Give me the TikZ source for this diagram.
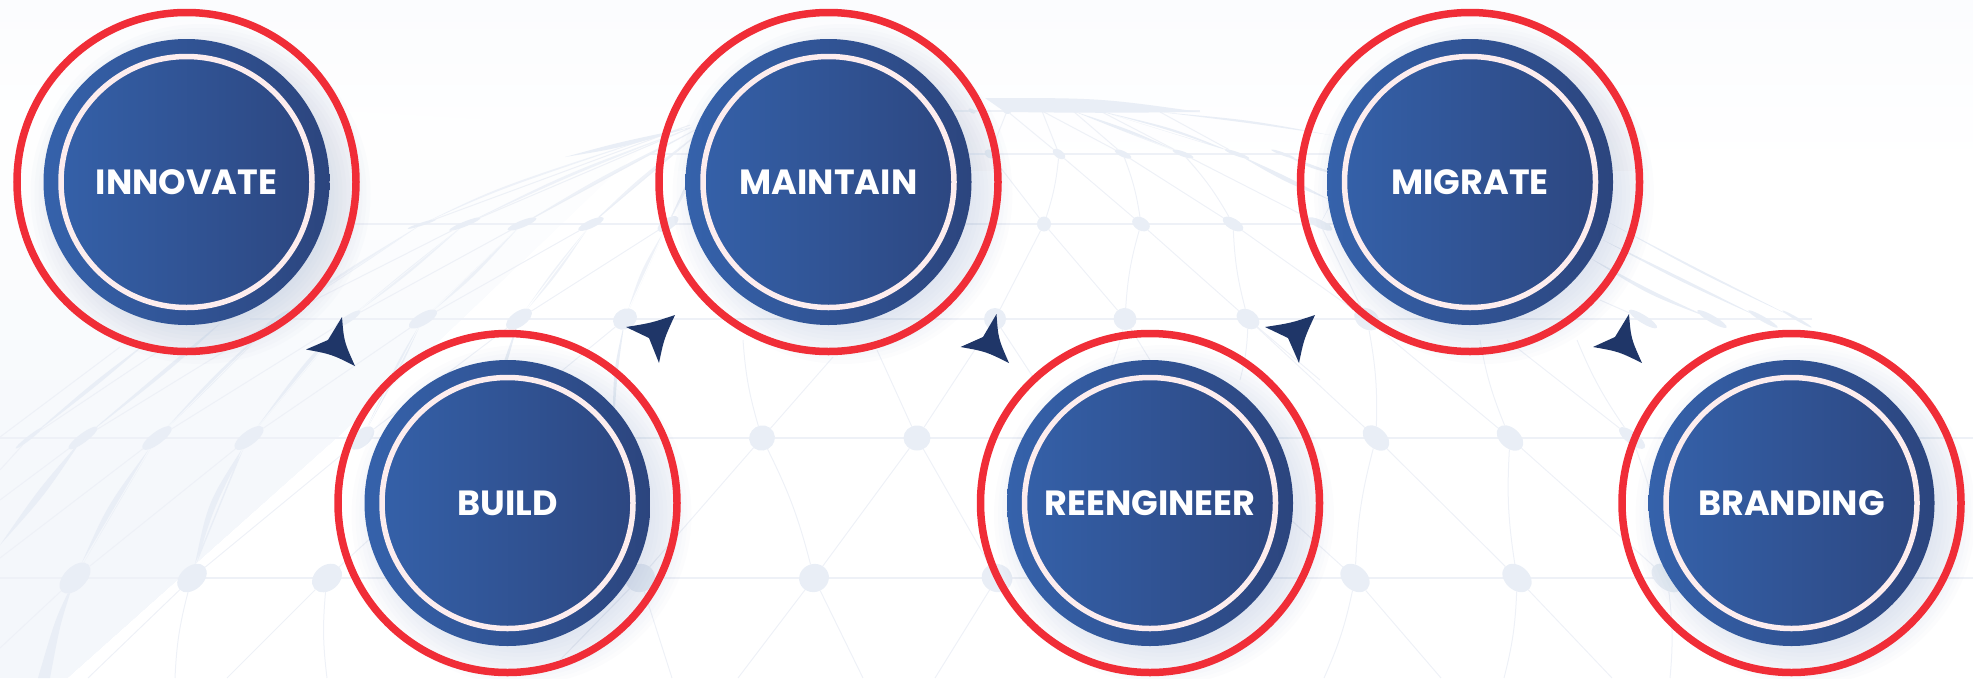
\documentclass[tikz,border=0pt]{standalone}
\usepackage{fontspec}
\usetikzlibrary{shapes.geometric}
\newfontfamily\badgefont{Poppins}
\definecolor{ringred}{HTML}{F02D37}
\definecolor{ringpale}{HTML}{FDEDEE}
\definecolor{discleft}{HTML}{3562AB}
\definecolor{discmid}{HTML}{2F4F8D}
\definecolor{discright}{HTML}{2C457E}
\definecolor{arrownavy}{HTML}{1F3668}
\definecolor{netfillc}{HTML}{E9EEF6}
\definecolor{netlinec}{HTML}{EEF1F7}
\definecolor{halo}{HTML}{A3B3D3}
\definecolor{tintc}{HTML}{F4F7FB}
\definecolor{topc}{HTML}{FBFCFE}
\tikzset{
  netdot/.style={ellipse,fill=netfillc,inner sep=0pt,outer sep=0pt},
  netline/.style={draw=netlinec,line width=1pt},
  netrow/.style={draw=netlinec,line width=1.5pt},
  netlens/.style={fill=netfillc},
  faintlens/.style={fill=netfillc,fill opacity=0.75},
  discnode/.style={circle,minimum size=286pt,inner sep=0pt,outer sep=0pt,left color=discleft,middle color=discmid,right color=discright,text=white,font=\badgefont\bfseries\fontsize{35pt}{38pt}\selectfont},
  ringnode/.style={circle,minimum size=339pt,inner sep=0pt,outer sep=0pt,draw=ringred,line width=7.5pt},
  palenode/.style={circle,minimum size=251pt,inner sep=0pt,outer sep=0pt,draw=ringpale,line width=5.5pt},
  pointer/.style={fill=arrownavy}
}
\newcommand{\badge}[4]{%
  \foreach \r in {126,130,...,170}{\fill[halo,opacity=0.035] (#2+14,#3+12) circle (\r);}
  \node[ringnode] (ring#1) at (#2,#3) {};
  \node[discnode] (#1) at (#2,#3) {#4};
  \node[palenode] (pale#1) at (#2,#3) {};
}
\newcommand{\lens}[4]{\fill[netlens] (#1) .. controls #2 .. (#4) .. controls #3 .. (#1) -- cycle;}
\newcommand{\flens}[4]{\fill[faintlens] (#1) .. controls #2 .. (#4) .. controls #3 .. (#1) -- cycle;}
\newcommand{\pointerback}[8]{\fill[pointer] (#1,#2) .. controls ({(#1+#3)/2-4.5},{(#2+#4)/2}) .. (#3,#4) .. controls ({(#3+#5)/2+1},{(#4+#6)/2-3.5}) .. (#5,#6) -- (#7,#8) -- cycle;}
\begin{document}
\begin{tikzpicture}[x=1pt,y=-1pt]
\path[use as bounding box] (0,0) rectangle (1973,678);
% background tints
\fill[top color=topc,bottom color=white,draw=none] (0,0) rectangle (1973,170);
\begin{scope}
\clip (0,90) -- (660,130) -- (345,430) -- (67,678) -- (0,678) -- cycle;
\foreach \yy/\p in {100/4,120/8,140/12,160/16,180/20,200/25,220/30,240/35,260/40,280/45,300/50,320/55,340/60,360/65,380/70,400/75,420/80,440/84,460/88,480/92,500/96,520/100}{
  \fill[tintc!\p!white] (0,\yy) rectangle (700,678);}
\end{scope}
% horizontal rows of the net
\foreach \yy/\xa/\xb in {578/0/1973,438/0/1973,319/250/1812,224/350/1560,154/650/1400,111/950/1200}{
  \draw[netrow] (\xa,\yy) -- (\xb,\yy);}
% net junctions
\foreach \n/\x/\y/\w/\h/\r in {
 a1/75/578/38/22/45,a2/192/578/34/23/42,a3/327/578/33/25/40,a4/640/578/30/28/20,a5/814/578/30/28/20,a6/997/578/31/28/-20,a7/1355/578/33/24/-42,a8/1517/578/33/24/-42,a9/1667/578/36/22/-40,
 b1/29/438/34/4/38,b2/83/438/36/9/37,b3/157/438/36/12/37,b4/249/438/35/14/37,b5/362/438/30/16/42,b6/762/438/26/25/30,b7/917/438/27/25/0,b8/1376/438/31/20/-42,b9/1510/438/31/20/-42,b10/1632/438/32/12/-38,
 c0/277/319/30/5/35,c1/348/319/30/7/33,c2/423/319/32/12/30,c3/519/319/30/15/35,c4/625/319/25/20/30,c5/995/319/22/22/0,c6/1125/319/23/22/-20,c7/1248/319/25/18/-35,c8/1367/319/28/20/-35,c9/1643/319/33/8/-32,c10/1712/319/34/7/-30,c11/1763/319/34/5/-30,c12/1797/319/34/3/-30,
 d1/422/224/30/3/18,d2/465/224/34/5/22,d3/522/224/31/7/22,d4/591/224/28/8/25,d5/668/224/24/11/33,d6/1044/224/14/15/0,d7/1141/224/19/13/-30,d8/1233/224/23/11/-30,d9/1320/224/27/8/-25,
 e1/990/154/12/8/-30,e2/1059/154/14/8/-35,e3/1123/154/18/6/-25,e4/1183/154/22/5/-20,e5/1237/154/26/4/-20,e6/1283/154/25/3/-20,
 f1/972/111/8/4/-30,f2/1007/111/8/6/-20}{
  \node[netdot,minimum width=\w pt,minimum height=\h pt,rotate=\r] (\n) at (\x,\y) {};}
% free ends of the net
\foreach \n/\x/\y in {
 l1/0/648,l2/88/678,l3/227/678,l4/175/678,l5/327/678,l6/0/500,l7/0/558,l8/0/470,l9/0/437,l10/0/545,
 m1/672/678,m2/738/678,m3/863/678,m4/935/678,m5/560/660,m6/743/340,m7/833/357,m8/877/350,m9/480/438,m10/613/440,m11/1033/377,m12/1105/380,m13/1150/360,m14/1240/380,m15/1320/380,
 r1/1324/678,r2/1441/678,r3/1280/510,r4/1504/678,r5/1612/678,r6/1670/678,r7/1480/340,r8/1577/340,r9/1507/340,
 t1/690/125,t2/690/128,t3/695/130,t4/700/132,t5/710/133,t6/1042/111,t7/1073/111,t8/1100/111,t9/1160/112,t10/1330/135,
 u1/1600/300,u2/1590/258,u3/1603/240,u4/1610/223,u5/1340/175,u6/1330/200,u7/1345/165,
 s1/120/347,s2/165/347,s3/225/319,s4/150/340}{
  \coordinate (\n) at (\x,\y);}
% thin connectors
\foreach \a/\b in {a1/b4,a2/b5,a1/l1,a2/l2,a3/l3,a3/m9,b2/l6,b3/l7,b1/l8,l9/s1,b1/s2,b4/c2,b3/c1,b2/c0,b5/c3,m9/c4,c1/d3,c2/d4,c3/d5,c0/d2,
 d1/t1,d2/t2,d3/t3,d4/t4,d5/t5,
 a4/b6,b6/m7,b7/m8,b7/a5,b7/a6,b7/c5,a4/m1,a4/m5,a5/m2,a5/m3,a6/m4,
 c5/d6,d6/c6,d7/c7,d8/c8,e1/d6,e2/d7,e3/d8,e4/d9,f2/e1,f2/e2,t6/e2,t6/e3,t7/e3,t8/e4,t9/e5,c5/m11,c6/m13,c7/m15,
 b8/c7,b9/c8,b10/r9,b8/a8,b9/a9,a7/r2,a7/r3,a8/r5,c9/u1,d9/c8}{
  \draw[netline] (\a) -- (\b);}
% gently curved connectors
\foreach \a/\b in {a2/l4,a3/l5,d6/e2,d7/c6,d8/c7,d7/e3,d8/e4}{
  \draw[netline] (\a) to[bend right=6] (\b);}
\foreach \a/\b in {b6/a5,b6/m6,a7/b8,a8/b9,b9/r7,b10/r8,b10/a9,a7/r1,a8/r4,a9/r6,c8/b8,c6/m12,c7/m14}{
  \draw[netline] (\a) to[bend left=6] (\b);}
% tapered strands
\fill[netlens] (a1) .. controls (55,620) .. (38,678) -- (50,678) .. controls (60,625) .. (a1) -- cycle;
\lens{a1}{(107,506)}{(114,510)}{b3}
\lens{a2}{(208,502)}{(214,507)}{b4}
\lens{b2}{(38,490)}{(44,496)}{l10}
\lens{b2}{(170,364)}{(174,367)}{s3}
\lens{b3}{(217,372)}{(221,376)}{c0}
\lens{b4}{(306,360)}{(310,365)}{c1}
\lens{b1}{(96,380)}{(99,384)}{s4}
\flens{c0}{(341,273)}{(344,277)}{d1}
\flens{c1}{(406,270)}{(409,274)}{d2}
\flens{c2}{(470,274)}{(473,278)}{d3}
\flens{c3}{(553,270)}{(557,275)}{d4}
\flens{c4}{(641,270)}{(645,275)}{d5}
\lens{c2}{(396,364)}{(401,368)}{b5}
\lens{c3}{(500,372)}{(504,375)}{m9}
\lens{c4}{(613,373)}{(617,375)}{m10}
\flens{d1}{(500,186)}{(502,188)}{t1}
\flens{d2}{(570,172)}{(572,175)}{t2}
\flens{d3}{(600,177)}{(603,180)}{t3}
\flens{d4}{(640,177)}{(643,180)}{t4}
\flens{d5}{(690,176)}{(693,179)}{t5}
\fill[netlens] (565,157) .. controls (620,142) .. (692,127) .. controls (620,148) .. (565,157) -- cycle;
\fill[netlens] (985,98) .. controls (1100,98) .. (1200,112) .. controls (1100,113) .. (1005,112) -- cycle;
\lens{t9}{(1250,120)}{(1250,123)}{t10}
\lens{t7}{(1125,132)}{(1131,130)}{e4}
\lens{t8}{(1170,130)}{(1173,128)}{e5}
\lens{e5}{(1290,178)}{(1285,182)}{u6}
\lens{e6}{(1315,166)}{(1312,169)}{u5}
\lens{d9}{(1345,180)}{(1340,185)}{u7}
\lens{c10}{(1650,290)}{(1647,294)}{u2}
\lens{c11}{(1680,277)}{(1677,280)}{u3}
\lens{c12}{(1700,270)}{(1698,272)}{u4}
% badges
\badge{innovate}{186.5}{182}{INNOVATE}
\badge{build}{507.5}{503}{BUILD}
\badge{maintain}{828.5}{182}{MAINTAIN}
\badge{reengineer}{1150}{503}{REENGINEER}
\badge{migrate}{1470}{182}{MIGRATE}
\badge{branding}{1791.5}{503}{BRANDING}
% pointers between the badges
\pointerback{342}{317}{355}{366}{306}{349.5}{328}{340}
\pointerback{996.5}{314}{1009}{363}{960.5}{347}{983}{337}
\pointerback{1629}{314}{1642}{363}{1593}{347}{1615}{337}
\fill[pointer] (675,315) .. controls (651,323) .. (626,327) -- (649,338) -- (659,363) .. controls (664,339) .. (675,315) -- cycle;
\fill[pointer] (1315,315) .. controls (1291,323) .. (1265,327) -- (1288,338) -- (1299,363) .. controls (1304,339) .. (1315,315) -- cycle;
\end{tikzpicture}
\end{document}
